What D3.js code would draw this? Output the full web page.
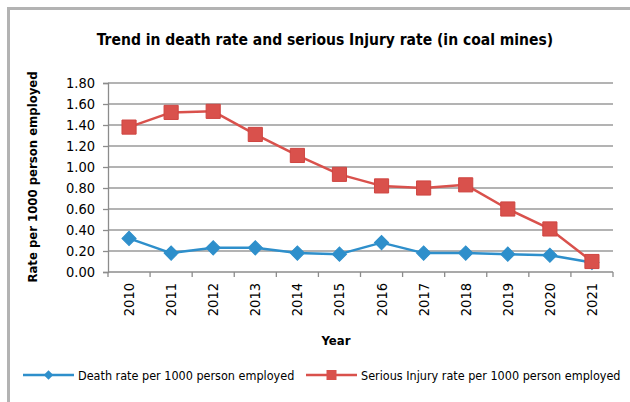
<!DOCTYPE html>
<html>
<head>
<meta charset="utf-8">
<script src="https://cdn.jsdelivr.net/npm/d3@7/dist/d3.min.js"></script>
<style>
  body { margin: 0; background: #fff; }
  text { font-family: "DejaVu Sans Condensed", "DejaVu Sans", sans-serif; fill: #000; }
</style>
</head>
<body>
<svg id="chart" width="630" height="402"></svg>
<script>
// Data
var years = ["2010", "2011", "2012", "2013", "2014", "2015", "2016", "2017", "2018", "2019", "2020", "2021"];
var deathRate = [0.32, 0.18, 0.23, 0.23, 0.18, 0.17, 0.28, 0.18, 0.18, 0.17, 0.16, 0.09];
var injuryRate = [1.38, 1.52, 1.53, 1.31, 1.11, 0.93, 0.82, 0.80, 0.83, 0.60, 0.41, 0.10];
var yTicks = [0, 0.2, 0.4, 0.6, 0.8, 1.0, 1.2, 1.4, 1.6, 1.8];

var blue = "#2e8fcb";
var red = "#d9514c";

var svg = d3.select("#chart");

// outer frame (runs off the right and bottom edge)
svg.append("rect")
  .attr("x", 8.5).attr("y", 8.5)
  .attr("width", 640).attr("height", 420)
  .attr("fill", "none")
  .attr("stroke", "#b3b3b3")
  .attr("stroke-width", 3);

var plotLeft = 108, plotRight = 613, plotTop = 83, plotBottom = 272;

var x = d3.scaleBand().domain(years).range([plotLeft, plotRight]);
var y = d3.scaleLinear().domain([0, 1.8]).range([plotBottom, plotTop]);

// title
svg.append("text")
  .attr("x", 325).attr("y", 45)
  .attr("text-anchor", "middle")
  .style("font-weight", "bold")
  .style("font-size", "15.5px")
  .text("Trend in death rate and serious Injury rate (in coal mines)");

// gridlines
svg.append("g")
  .selectAll("line")
  .data(yTicks.slice(1))
  .enter().append("line")
  .attr("x1", plotLeft).attr("x2", plotRight)
  .attr("y1", function(d){ return y(d); })
  .attr("y2", function(d){ return y(d); })
  .attr("stroke", "#9a9a9a")
  .attr("stroke-width", 1.3);

// y axis
var yAxis = svg.append("g")
  .attr("transform", "translate(" + plotLeft + ",0)")
  .call(d3.axisLeft(y).tickValues(yTicks).tickSize(5).tickPadding(8)
    .tickFormat(d3.format(".2f")));
yAxis.selectAll("text").style("font-size", "14.5px");
yAxis.selectAll("line, path").attr("stroke", "#8c8c8c").attr("stroke-width", 1.3);

// x axis with ticks on band edges
var xAxis = svg.append("g")
  .attr("transform", "translate(0," + plotBottom + ")");
xAxis.append("line")
  .attr("x1", plotLeft).attr("x2", plotRight)
  .attr("stroke", "#8c8c8c").attr("stroke-width", 1.3);
xAxis.selectAll(".edge")
  .data(years.concat(["end"]))
  .enter().append("line")
  .attr("class", "edge")
  .attr("x1", function(d, i){ return plotLeft + i * x.step(); })
  .attr("x2", function(d, i){ return plotLeft + i * x.step(); })
  .attr("y1", 0).attr("y2", 5)
  .attr("stroke", "#8c8c8c").attr("stroke-width", 1.3);
xAxis.selectAll(".yr")
  .data(years)
  .enter().append("text")
  .attr("class", "yr")
  .attr("transform", function(d){
    return "translate(" + (x(d) + x.bandwidth() / 2 + 5) + ",11) rotate(-90)";
  })
  .attr("text-anchor", "end")
  .style("font-size", "14.5px")
  .text(function(d){ return d; });

// axis titles
svg.append("text")
  .attr("x", 336).attr("y", 345)
  .attr("text-anchor", "middle")
  .style("font-weight", "bold")
  .style("font-size", "13px")
  .text("Year");

svg.append("text")
  .attr("transform", "translate(37,177) rotate(-90)")
  .attr("text-anchor", "middle")
  .style("font-weight", "bold")
  .style("font-size", "13px")
  .text("Rate per 1000 person employed");

// lines
var line = d3.line()
  .x(function(d, i){ return x(years[i]) + x.bandwidth() / 2; })
  .y(function(d){ return y(d); });

// diamond = square turned 45 degrees, like the Excel marker
function markerPath(kind, size) {
  return d3.symbol().type(d3.symbolSquare).size(size)();
}
function markerTurn(kind) {
  return kind === "diamond" ? " rotate(45)" : "";
}

function drawSeries(values, color, kind) {
  svg.append("path")
    .datum(values)
    .attr("fill", "none")
    .attr("stroke", color)
    .attr("stroke-width", 2.5)
    .attr("stroke-linejoin", "round")
    .attr("d", line);

  svg.append("g")
    .selectAll("path")
    .data(values)
    .enter().append("path")
    .attr("d", markerPath(kind, kind === "square" ? 200 : 100))
    .attr("transform", function(d, i){
      return "translate(" + (x(years[i]) + x.bandwidth() / 2) + "," + y(d) + ")" + markerTurn(kind);
    })
    .attr("fill", color)
    .attr("stroke", kind === "square" ? "#cf4541" : color)
    .attr("stroke-width", 1);
}
drawSeries(deathRate, blue, "diamond");
drawSeries(injuryRate, red, "square");

// legend
var legendItems = [
  { label: "Death rate per 1000 person employed", color: blue, kind: "diamond", x: 23 },
  { label: "Serious Injury rate per 1000 person employed", color: red, kind: "square", x: 306 }
];
var legend = svg.append("g").attr("transform", "translate(0,375)");
legendItems.forEach(function(item){
  legend.append("line")
    .attr("x1", item.x).attr("x2", item.x + 51)
    .attr("stroke", item.color).attr("stroke-width", 2.5);
  legend.append("path")
    .attr("d", markerPath(item.kind, item.kind === "square" ? 100 : 45))
    .attr("transform", "translate(" + (item.x + 25.5) + ",0)" + markerTurn(item.kind))
    .attr("fill", item.color);
  legend.append("text")
    .attr("x", item.x + 55).attr("y", 5)
    .style("font-size", "12.5px")
    .text(item.label);
});
</script>
</body>
</html>
